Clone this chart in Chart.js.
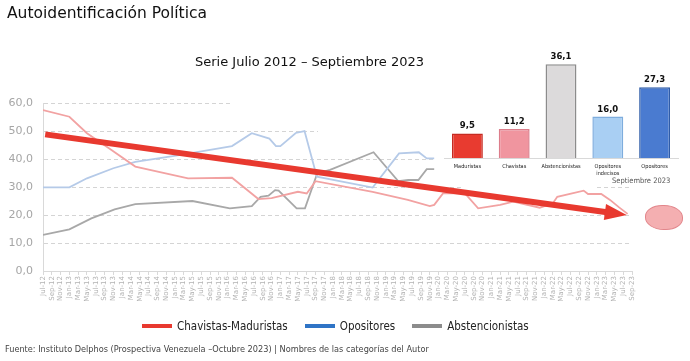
<!DOCTYPE html>
<html>
<head>
<meta charset="utf-8">
<script src="https://cdn.jsdelivr.net/npm/chart.js@4.4.0/dist/chart.umd.min.js"></script>
<style>
html, body { margin: 0; padding: 0; background: #fff; }
#wrap { position: relative; width: 690px; height: 361px; overflow: hidden; font-family: "DejaVu Sans", sans-serif; }
canvas { position: absolute; }
#main { left: 0; top: 0; }
#inset { left: 444px; top: 40px; background: #fff; }
.mask { position: absolute; background: #fff; }
#titulo { position: absolute; left: 7px; top: 4px; font-size: 15.5px; color: #111; white-space: nowrap; }
#serie { position: absolute; left: 195px; top: 54px; font-size: 13px; color: #111; white-space: nowrap; }
#sept { position: absolute; left: 612px; top: 176px; font: 7.5px "DejaVu Sans Condensed", sans-serif; color: #555; white-space: nowrap; }
#blob { position: absolute; left: 645px; top: 205px; width: 36px; height: 23px; border-radius: 45% 50% 45% 50%; background: #F4AFB1; border: 1px solid #E2868B; }
#leyenda { position: absolute; left: 142px; top: 319px; display: flex; gap: 17px; font: 11.5px "DejaVu Sans Condensed", sans-serif; color: #222; white-space: nowrap; }
#leyenda .item { display: flex; align-items: center; gap: 5px; }
#leyenda .linea { width: 30px; height: 3.5px; }
#fuente { position: absolute; left: 5px; top: 344px; font: 9.1px "DejaVu Sans Condensed", sans-serif; color: #444; white-space: nowrap; }
</style>
</head>
<body>
<div id="wrap">
  <canvas id="main" width="690" height="361"></canvas>
  <div class="mask" style="left:231px;top:96px;width:210px;height:12px"></div>
  <div class="mask" style="left:318px;top:108px;width:123px;height:28px"></div>
  <div class="mask" style="left:436px;top:40px;width:10px;height:136px"></div>
  <div class="mask" style="left:464px;top:176px;width:133px;height:12px"></div>
  <canvas id="inset" width="236" height="138"></canvas>
  <div id="titulo">Autoidentificación Política</div>
  <div id="serie">Serie Julio 2012 – Septiembre 2023</div>
  <div id="sept">Septiembre 2023</div>
  <div id="blob"></div>
  <div id="leyenda"></div>
  <div id="fuente">Fuente: Instituto Delphos (Prospectiva Venezuela –Octubre 2023) | Nombres de las categorías del Autor</div>
</div>
<script>
// meses contados desde jul-2012
const mesesChavistas = [0, 6, 10, 15, 21, 33, 43, 49, 52, 58, 60, 62, 75, 83, 88, 89, 91, 96, 99, 104, 107, 113, 116, 117, 123, 124, 127, 129, 131, 133];
const chavistas      = [57.5, 55.1, 49.2, 43.8, 37.3, 33.1, 33.3, 25.7, 26.0, 28.3, 27.7, 32.1, 28.3, 25.4, 23.2, 23.6, 27.7, 27.7, 22.4, 23.6, 24.8, 22.6, 24.2, 26.5, 28.7, 27.5, 27.5, 25.4, 22.8, 20.4];

const mesesOpositores = [0, 6, 10, 16, 21, 31, 43, 47.5, 51.5, 53, 54, 57.5, 59.5, 62.3, 75, 81, 85.5, 87.3, 89];
const opositores      = [29.9, 29.9, 33.1, 36.7, 39.0, 41.4, 44.6, 49.2, 47.3, 44.6, 44.6, 49.3, 50.0, 33.7, 29.8, 42.0, 42.4, 40.2, 40.2];

const mesesAbst = [0, 6, 11, 16.3, 21, 34, 42.5, 47.5, 49.5, 51.3, 52.8, 53.6, 57.7, 59.6, 62.4, 65.3, 75.2, 80.8, 83.1, 85.4, 87.3, 89];
const abstencionistas = [12.9, 14.9, 18.8, 22.0, 23.9, 25.0, 22.4, 23.2, 26.5, 26.9, 28.9, 28.7, 22.4, 22.4, 34.9, 36.1, 42.4, 32.1, 32.5, 32.5, 36.4, 36.4];

const mesesTendencia = [0.5, 132.8];
const tendencia      = [48.8, 20.0];

const nombresSeries = ['Chavistas-Maduristas', 'Opositores', 'Abstencionistas'];
const coloresLeyenda = ['#E8392F', '#2F74C6', '#8C8C8C'];
const coloresLinea   = ['#F2A2A2', '#B5CAE8', '#A8A8A8'];

// barras septiembre 2023
const categoriasSep = ['Maduristas', 'Chavistas', 'Abstencionistas', ['Opositores', 'indecisos'], 'Opositores'];
const valoresSep    = [9.5, 11.2, 36.1, 16.0, 27.3];
const rellenoSep    = ['#E83B30', '#F0959F', '#DCDADB', '#A9CFF3', '#4A7BD0'];
const bordeSep      = ['#C52B22', '#DC7D8B', '#8C8C8C', '#7EADDD', '#2F5CA8'];

// etiquetas del eje: jul-12 ... sep-23 cada 2 meses
const ciclo = ['Jul', 'Sep', 'Nov', 'Jan', 'Mar', 'May'];
const etiquetasEje = [];
let anio = 12;
for (let k = 0; k < 68; k++) {
  const m = ciclo[k % 6];
  if (m === 'Jan') anio++;
  etiquetasEje.push(m + '-' + anio);
}

const coma = v => v.toFixed(1).replace('.', ',');
const puntos = (xs, ys) => xs.map((x, i) => ({ x: x, y: ys[i] }));

const flecha = {
  id: 'flecha',
  afterDatasetsDraw(chart) {
    const pts = chart.getDatasetMeta(3).data;
    if (pts.length < 2) return;
    const a = pts[0], b = pts[pts.length - 1];
    const dx = b.x - a.x, dy = b.y - a.y;
    const len = Math.hypot(dx, dy);
    const ux = dx / len, uy = dy / len;
    const largo = 22, ancho = 8;
    const bx = b.x - ux * largo, by = b.y - uy * largo;
    const ctx = chart.ctx;
    ctx.save();
    ctx.strokeStyle = '#E8392F';
    ctx.fillStyle = '#E8392F';
    ctx.lineWidth = 6;
    ctx.beginPath();
    ctx.moveTo(a.x, a.y);
    ctx.lineTo(bx + ux * 2, by + uy * 2);
    ctx.stroke();
    ctx.beginPath();
    ctx.moveTo(b.x, b.y);
    ctx.lineTo(bx - uy * ancho, by + ux * ancho);
    ctx.lineTo(bx + uy * ancho, by - ux * ancho);
    ctx.closePath();
    ctx.fill();
    ctx.restore();
  }
};

new Chart(document.getElementById('main'), {
  type: 'line',
  data: {
    datasets: [
      { label: nombresSeries[0], data: puntos(mesesChavistas, chavistas), borderColor: coloresLinea[0] },
      { label: nombresSeries[1], data: puntos(mesesOpositores, opositores), borderColor: coloresLinea[1] },
      { label: nombresSeries[2], data: puntos(mesesAbst, abstencionistas), borderColor: coloresLinea[2] },
      { label: 'tendencia', data: puntos(mesesTendencia, tendencia), showLine: false, pointRadius: 0 }
    ]
  },
  options: {
    responsive: false,
    animation: false,
    layout: { padding: { left: 0, right: 58, top: 103, bottom: 45 } },
    elements: {
      line: { borderWidth: 1.8, tension: 0 },
      point: { radius: 0 }
    },
    plugins: { legend: { display: false }, tooltip: { enabled: false } },
    scales: {
      x: {
        type: 'linear',
        min: 0,
        max: 134,
        afterFit(s) { s.height = 45; },
        grid: { drawOnChartArea: false, drawTicks: true, tickLength: 4, color: '#D9D9D9' },
        border: { color: '#D9D9D9' },
        ticks: {
          stepSize: 2,
          autoSkip: false,
          minRotation: 90,
          maxRotation: 90,
          padding: 1,
          color: '#B3B3B3',
          font: { family: 'DejaVu Sans', size: 7 },
          callback: v => etiquetasEje[Math.round(v / 2)]
        }
      },
      y: {
        min: 0,
        max: 60,
        afterFit(s) { s.width = 43; },
        grid: { color: '#D4D4D4', drawTicks: false },
        border: { color: '#D9D9D9', dash: [4, 3] },
        ticks: {
          stepSize: 10,
          padding: 10,
          color: '#A6A6A6',
          font: { family: 'DejaVu Sans', size: 11 },
          callback: v => coma(v)
        }
      }
    }
  },
  plugins: [flecha]
});

const etiquetasBarras = {
  id: 'etiquetasBarras',
  afterDatasetsDraw(chart) {
    const ctx = chart.ctx;
    ctx.save();
    ctx.font = 'bold 8.5px "DejaVu Sans"';
    ctx.fillStyle = '#111';
    ctx.textAlign = 'center';
    ctx.textBaseline = 'bottom';
    chart.getDatasetMeta(0).data.forEach((bar, i) => {
      ctx.fillText(coma(valoresSep[i]), bar.x, bar.y - 3);
    });
    ctx.restore();
  }
};

new Chart(document.getElementById('inset'), {
  type: 'bar',
  data: {
    labels: categoriasSep,
    datasets: [{
      data: valoresSep,
      backgroundColor: rellenoSep,
      borderColor: bordeSep,
      borderWidth: 1.5,
      barPercentage: 0.66,
      categoryPercentage: 1
    }]
  },
  options: {
    responsive: false,
    animation: false,
    layout: { padding: { left: 0, right: 2, top: 1, bottom: 0 } },
    plugins: { legend: { display: false }, tooltip: { enabled: false } },
    scales: {
      x: {
        afterFit(s) { s.height = 19.7; },
        grid: { display: false, drawTicks: false },
        border: { color: '#D9D9D9' },
        ticks: {
          maxRotation: 0,
          padding: 5,
          color: '#222',
          font: { family: 'DejaVu Sans Condensed', size: 5.5 }
        }
      },
      y: { display: false, min: 0, max: 45 }
    }
  },
  plugins: [etiquetasBarras]
});

const leyenda = document.getElementById('leyenda');
nombresSeries.forEach((n, i) => {
  const it = document.createElement('div');
  it.className = 'item';
  it.innerHTML = '<span class="linea" style="background:' + coloresLeyenda[i] + '"></span><span>' + n + '</span>';
  leyenda.appendChild(it);
});
</script>
</body>
</html>
